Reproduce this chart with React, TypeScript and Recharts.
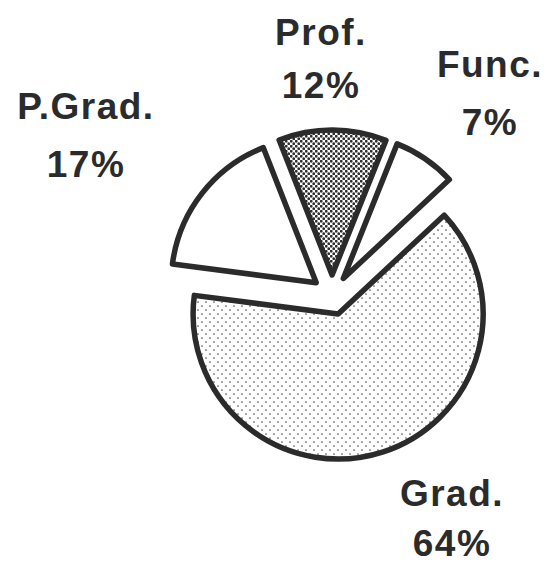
import React from "react";
import { PieChart, Pie, Cell } from "recharts";

// slice order runs counter-clockwise from the start angle
const categories = ["Func.", "Prof.", "P.Grad.", "Grad."];
const shares = [7, 12, 17, 64];

const data = categories.map((name, i) => ({ name, value: shares[i] }));

const START = 43;
const CENTER = { x: 327, y: 290 };
const EXPLODE = 20;
const RADIUS = 145;
const INK = "#2b2b2b";

const fills: Record<string, string> = {
  "Func.": "#ffffff",
  "Prof.": "url(#profDots)",
  "P.Grad.": "#ffffff",
  "Grad.": "url(#gradDots)",
};

// label anchor: x centre, baseline of name, baseline of percentage
const labelPos: Record<string, [number, number, number]> = {
  "Func.": [490, 77, 135],
  "Prof.": [321, 45, 98],
  "P.Grad.": [86, 119, 177],
  "Grad.": [452, 506, 556],
};

const total = shares.reduce((a, b) => a + b, 0);

const midAngle = (i: number) => {
  const before = shares.slice(0, i).reduce((a, b) => a + b, 0);
  return START + ((before + shares[i] / 2) / total) * 360;
};

const makeLabel = (only: number) => (props: any) => {
  if (props.index !== only) return null;
  const name = categories[only];
  const [x, y1, y2] = labelPos[name];
  const pct = Math.round((shares[only] / total) * 100);
  return (
    <text
      textAnchor="middle"
      fill={INK}
      fontFamily="'Liberation Sans', Arial, sans-serif"
      fontWeight="bold"
      fontSize={37}
      letterSpacing={1.5}
    >
      <tspan x={x} y={y1}>{name}</tspan>
      <tspan x={x} y={y2}>{pct}%</tspan>
    </text>
  );
};

const App = () => {
  return (
    <div style={{ position: "absolute", left: 0, top: 0, background: "#fff" }}>
      <PieChart width={549} height={565}>
        <defs>
          <pattern id="profDots" width="5" height="5" patternUnits="userSpaceOnUse">
            <rect width="5" height="5" fill="#fff" />
            <circle cx="1.25" cy="1.25" r="1.4" fill="#2e2e2e" />
            <circle cx="3.75" cy="3.75" r="1.4" fill="#2e2e2e" />
          </pattern>
          <pattern id="gradDots" width="8" height="8" patternUnits="userSpaceOnUse">
            <rect width="8" height="8" fill="#fff" />
            <circle cx="2" cy="2" r="0.85" fill="#555" />
            <circle cx="6" cy="6" r="0.85" fill="#555" />
          </pattern>
        </defs>
        {categories.map((cat, i) => {
          const a = (midAngle(i) * Math.PI) / 180;
          return (
            <Pie
              key={cat}
              data={data}
              dataKey="value"
              nameKey="name"
              cx={CENTER.x + EXPLODE * Math.cos(a)}
              cy={CENTER.y - EXPLODE * Math.sin(a)}
              startAngle={START}
              endAngle={START + 360}
              innerRadius={0}
              outerRadius={RADIUS}
              stroke={INK}
              strokeWidth={5.5}
              strokeLinejoin="round"
              label={makeLabel(i)}
              labelLine={false}
              isAnimationActive={false}
            >
              {data.map((d, j) => (
                <Cell
                  key={d.name}
                  fill={j === i ? fills[d.name] : "none"}
                  stroke={j === i ? INK : "none"}
                />
              ))}
            </Pie>
          );
        })}
      </PieChart>
    </div>
  );
};

export default App;
